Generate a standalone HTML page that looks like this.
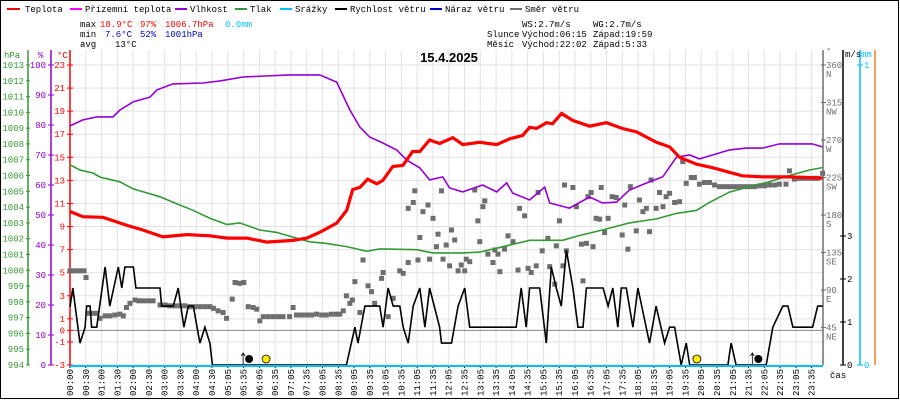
<!DOCTYPE html>
<html><head><meta charset="utf-8">
<style>
html,body{margin:0;padding:0;background:#fff;}
svg{display:block;font-family:"Liberation Mono",monospace;}
</style></head>
<body>
<svg id="chart" width="900" height="400" viewBox="0 0 900 400" xmlns="http://www.w3.org/2000/svg">
<rect x="0.5" y="0.5" width="898" height="398" fill="#fff" stroke="#000" stroke-width="1"/>
<g id="grid"></g>
<g id="axes"></g>
<g id="series"></g>
<g id="head" font-size="9">
  <g>
    <g><line x1="7" y1="9" x2="20" y2="9" stroke="#f00" stroke-width="2"/><text x="25" y="12">Teplota</text></g>
    <g><line x1="70" y1="9" x2="82" y2="9" stroke="#f0f" stroke-width="2"/><text x="85" y="12">Přízemní teplota</text></g>
    <g><line x1="175" y1="9" x2="187" y2="9" stroke="#9400d3" stroke-width="2"/><text x="190" y="12">Vlhkost</text></g>
    <g><line x1="235" y1="9" x2="247" y2="9" stroke="#339933" stroke-width="2"/><text x="250" y="12">Tlak</text></g>
    <g><line x1="280" y1="9" x2="292" y2="9" stroke="#00bfff" stroke-width="2"/><text x="295" y="12">Srážky</text></g>
    <g><line x1="335" y1="9" x2="347" y2="9" stroke="#000" stroke-width="2"/><text x="350" y="12">Rychlost větru</text></g>
    <g><line x1="430" y1="9" x2="442" y2="9" stroke="#0000cd" stroke-width="2"/><text x="445" y="12">Náraz větru</text></g>
    <g><line x1="510" y1="9" x2="522" y2="9" stroke="#6e6e6e" stroke-width="2"/><text x="525" y="12">Směr větru</text></g>
  </g>
  <g>
    <text x="80" y="27">max</text><text x="100" y="27" fill="#f00">18.9°C</text><text x="140" y="27" fill="#f00">97%</text><text x="165" y="27" fill="#f00">1006.7hPa</text><text x="225" y="27" fill="#00bfff">0.0mm</text>
    <text x="80" y="37">min</text><text x="105" y="37" fill="#0000cd">7.6°C</text><text x="140" y="37" fill="#0000cd">52%</text><text x="165" y="37" fill="#0000cd">1001hPa</text>
    <text x="80" y="47">avg</text><text x="115" y="47">13°C</text>
  </g>
  <g>
    <text x="522" y="27">WS:2.7m/s</text><text x="593" y="27">WG:2.7m/s</text>
    <text x="487" y="37">Slunce</text><text x="522" y="37">Východ:06:15</text><text x="593" y="37">Západ:19:59</text>
    <text x="487" y="47">Měsíc</text><text x="522" y="47">Východ:22:02</text><text x="593" y="47">Západ:5:33</text>
  </g>
  <text x="449" y="62" font-size="13" font-weight="bold" text-anchor="middle" font-family="Liberation Sans, sans-serif">15.4.2025</text>
  <text x="4" y="58" fill="#339933">hPa</text>
  <text x="38" y="58" fill="#9400d3">%</text>
  <text x="57" y="58" fill="#f00">°C</text>
  <text x="826" y="54" fill="#6e6e6e">°</text>
  <text x="845" y="57">m/s</text>
  <text x="861" y="57" fill="#00bfff">mm</text>
  <text x="830" y="378">čas</text>
</g>
</svg>
<script>
// ---- data ----
const xLabels = ["00:00","00:30","01:00","01:30","02:00","02:30","03:00","03:30","04:00","04:30","05:05","05:35","06:05","06:35","07:05","07:35","08:05","08:35","09:05","09:35","10:05","10:35","11:05","11:35","12:05","12:35","13:05","13:35","14:05","14:35","15:05","15:35","16:05","16:35","17:05","17:35","18:05","18:35","19:05","19:35","20:05","20:35","21:05","21:35","22:05","22:35","23:05","23:35"];
const tempTicks = [23,21,19,17,15,13,11,9,7,5,3,1,0,-1,-3];
const humTicks = [100,90,80,70,60,50,40,30,20,10,0];
const presTicks = [1013,1012,1011,1010,1009,1008,1007,1006,1005,1004,1003,1002,1001,1000,999,998,997,996,995,994];
const dirTicks = [360,315,270,225,180,135,90,45];
const dirNames = ["N","NW","W","SW","S","SE","E","NE"];
const windTicks = [0,1,2,3];

const tempTimes = [0,0.41,1.05,1.82,2.32,2.96,3.73,4.46,5.0,5.64,6.27,7.1,7.55,7.96,8.5,8.82,9.01,9.24,9.49,9.78,9.97,10.29,10.61,10.92,11.15,11.46,11.78,12.2,12.52,13.06,13.6,14.01,14.43,14.65,14.87,15.19,15.38,15.67,16.02,16.56,17.1,17.61,18.06,18.69,19.11,19.43,19.97,20.48,21.02,21.43,22.07,22.93,23.98];
const tempValues = [10.3,9.85,9.8,9.1,8.7,8.1,8.3,8.2,8.0,8.0,7.65,7.8,8.0,8.5,9.3,10.4,12.2,12.4,13.1,12.7,13.0,14.2,14.3,15.5,15.5,16.5,16.2,16.7,16.1,16.3,16.1,16.6,16.9,17.6,17.5,18.0,17.9,18.8,18.2,17.7,18.0,17.5,17.2,16.3,15.9,15.0,14.4,14.1,13.7,13.4,13.3,13.3,13.2];

const humTimes = [0,0.41,0.86,1.37,1.59,2.01,2.55,2.77,3.28,4.24,4.78,5.51,7.01,7.96,8.5,8.92,9.24,9.55,9.97,10.41,10.73,11.15,11.46,11.88,12.1,12.52,13.15,13.6,13.92,14.11,14.65,15.13,15.29,15.92,16.56,16.97,17.42,17.83,18.38,18.89,19.33,19.75,20.06,20.48,21.02,21.56,22.07,22.61,23.66,23.98];
const humValues = [79.7,81.7,82.7,82.7,85,87.7,89.3,91.7,93.7,94,94.7,96,96.7,96.7,94.3,85,79.3,76,74,71.7,68.3,65.7,61.7,62.7,59,57.7,60,57.7,60.7,57.3,55,59.3,54,52.3,56,54,54.3,58.3,60.7,62.7,69.3,70,68.7,70,71.7,72.3,72.3,73.7,73.7,72.7];

const presTimes = [0,0.32,0.73,0.96,1.59,2.01,2.45,2.87,3.41,3.92,4.46,5.0,5.41,6.05,6.59,7.1,7.64,8.18,8.82,9.46,9.87,11.05,11.56,12.52,13.06,13.6,14.65,15.7,16.24,16.97,17.83,18.69,19.33,19.97,20.38,21.02,21.66,22.29,22.93,23.57,23.98];
const presValues = [1006.67,1006.35,1006.16,1005.9,1005.6,1005.15,1004.9,1004.65,1004.2,1003.8,1003.3,1002.9,1003.0,1002.55,1002.4,1002.1,1001.8,1001.7,1001.5,1001.2,1001.35,1001.3,1001.1,1001.1,1001.15,1001.4,1001.9,1001.9,1002.2,1002.55,1003.0,1003.25,1003.6,1003.8,1004.3,1004.95,1005.3,1005.6,1006.0,1006.35,1006.5];

const windTimes = [0,0.09,0.32,0.48,0.53,0.64,0.69,0.85,1.12,1.27,1.54,1.65,1.75,2.02,2.1,2.87,2.92,3.29,3.45,3.63,3.77,3.93,4.14,4.3,4.46,4.54,8.81,9.08,9.18,9.4,9.87,9.98,10.14,10.3,10.51,10.62,10.78,10.94,11.15,11.31,11.46,11.78,11.84,12.16,12.37,12.58,12.74,14.22,14.38,14.54,14.65,14.97,15.18,15.34,15.5,15.66,15.82,16.03,16.19,16.35,16.46,16.99,17.15,17.3,17.46,17.57,17.73,17.94,18.1,18.47,18.68,18.95,19.11,19.27,19.48,19.64,19.75,20.97,21.07,21.23,22.19,22.4,22.72,22.88,23.04,23.67,23.83,23.99];
const windValues = [1.35,1.79,0.51,0.88,1.37,1.37,0.88,0.88,2.28,1.37,2.28,1.79,2.28,2.28,1.79,1.79,1.37,1.37,1.79,0.88,1.37,1.37,0.51,0.88,0.51,0,0,0.88,0.51,1.37,1.37,0.88,1.79,1.37,1.37,0.88,0.51,1.37,1.79,0.88,1.79,0.88,0.51,0.51,1.37,1.79,0.88,0.88,1.79,0.88,1.79,1.79,0.51,2.28,1.79,1.37,2.67,1.79,0.88,0.88,1.79,1.79,1.37,1.79,0.88,1.79,1.79,0.88,1.79,0.51,1.37,0.51,0.88,0.88,0,0.51,0,0,0.51,0,0,0.88,1.37,1.37,0.88,0.88,1.37,1.37];

const dirTimes = [0,0.16,0.32,0.45,0.51,0.62,0.74,0.85,0.96,1.12,1.27,1.43,1.59,1.7,1.8,1.91,2.07,2.2,2.34,2.5,2.65,2.87,3.03,3.18,3.34,3.5,3.66,3.82,3.98,4.14,4.3,4.46,4.57,4.72,4.88,4.99,5.17,5.26,5.41,5.54,5.68,5.84,5.95,6.05,6.16,6.32,6.48,6.64,6.79,7.0,7.11,7.22,7.38,7.54,7.7,7.86,8.02,8.17,8.33,8.49,8.6,8.71,8.81,8.92,9.0,9.08,9.24,9.34,9.5,9.61,9.71,9.93,9.98,10.14,10.3,10.51,10.62,10.78,10.78,10.94,10.99,11.09,11.15,11.25,11.41,11.46,11.57,11.68,11.73,11.84,11.89,11.99,12.1,12.16,12.26,12.37,12.47,12.58,12.63,12.74,12.9,13.0,13.06,13.16,13.22,13.32,13.48,13.54,13.64,13.7,13.85,13.96,14.12,14.28,14.33,14.49,14.6,14.7,14.86,14.92,15.05,15.23,15.29,15.45,15.5,15.6,15.71,15.76,15.82,16.03,16.14,16.3,16.35,16.46,16.51,16.61,16.67,16.77,16.88,16.93,17.04,17.15,17.28,17.41,17.6,17.68,17.78,17.86,18.05,18.15,18.26,18.37,18.47,18.52,18.68,18.79,18.9,19.0,19.11,19.27,19.43,19.53,19.64,19.8,19.9,20.06,20.22,20.38,20.54,20.7,20.86,21.02,21.18,21.34,21.5,21.66,21.82,21.98,22.14,22.3,22.46,22.61,22.82,22.93,23.09,23.25,23.41,23.57,23.72,23.83,23.99];
const dirValues = [113,113,113,113,105,62,62,62,56,59,59,60,61,59,69,74,78,77,77,77,77,72,72,71,71,71,71,70,70,70,70,70,68,65,63,56,79,99,98,99,70,69,67,53,58,58,58,58,58,58,69,60,60,60,60,61,60,60,61,61,61,65,83,74,78,100,63,126,95,88,74,104,111,58,80,113,110,123,188,195,209,126,153,184,192,127,176,142,157,209,127,144,119,162,150,113,120,113,127,124,210,173,148,190,197,133,123,138,133,112,139,155,148,114,188,179,116,111,119,207,137,152,118,97,143,173,119,216,137,213,190,145,101,146,202,207,142,176,175,213,159,176,202,201,156,192,139,214,161,198,184,188,160,222,188,207,190,202,206,195,196,244,218,225,225,217,219,219,216,214,214,214,214,214,214,214,214,215,215,216,216,217,217,233,223,224,224,224,224,224,230,232];

const sunTimes = [6.25, 19.98];
const moonTimes = [5.55, 21.78];

// ---- scales ----
const X0 = 70, X1 = 823, Y0 = 65, Y1 = 365;
const xT = t => X0 + t * (X1 - X0) / 24;
const xLab = i => X0 + i * 15.78;
const yTemp = v => Y0 + (23 - v) * (Y1 - Y0) / 26;
const yHum = v => Y0 + (100 - v) * (Y1 - Y0) / 100;
const yPres = v => Y0 + (1013 - v) * (Y1 - Y0) / 19;
const yDir = v => Y0 + (360 - v) * (Y1 - Y0) / 360;
const yWind = v => Y1 - v * 43;

const NS = "http://www.w3.org/2000/svg";
function mk(parent, tag, attrs, text) {
  const e = document.createElementNS(NS, tag);
  for (const k in attrs) e.setAttribute(k, attrs[k]);
  if (text !== undefined) e.textContent = text;
  parent.appendChild(e);
  return e;
}
const grid = document.getElementById('grid');
const axes = document.getElementById('axes');
const series = document.getElementById('series');

// vertical grid + x labels
xLabels.forEach((lab, i) => {
  const x = xLab(i);
  const gl = mk(grid, 'line', {x1: x, y1: 50, x2: x, y2: Y1, stroke: '#e2e2e2', 'stroke-width': 1});
  
  
  const tk = mk(axes, 'line', {x1: x, y1: Y1, x2: x, y2: Y1 + 3, stroke: '#000', 'stroke-width': 1});
  
  
  const tx = mk(axes, 'text', {x: 0, y: 0, 'font-size': 9, 'text-anchor': 'end', transform: `translate(${x + 3},369) rotate(-90)`}, lab);
  
  
});
// horizontal grid at temp ticks
tempTicks.forEach(v => {
  const y = yTemp(v);
  const gl = mk(grid, 'line', {x1: X0, y1: y, x2: X1, y2: y, stroke: v === 0 ? '#888' : '#e2e2e2', 'stroke-width': 1});
  
  
});

// left axes
function axisLine(x, y1, y2, color, name) {
  const l = mk(axes, 'line', {x1: x, y1: y1, x2: x, y2: y2, stroke: color, 'stroke-width': 1.5});
  
  
}
axisLine(28, 50, Y1, '#339933', 'pressure-axis');
axisLine(51, 50, Y1, '#9400d3', 'humidity-axis');
axisLine(X0, 50, Y1, '#f00', 'temperature-axis');
presTicks.forEach(v => {
  const y = yPres(v);
  mk(axes, 'line', {x1: 26, y1: y, x2: 30, y2: y, stroke: '#339933'});
  const t = mk(axes, 'text', {x: 24, y: y + 3, 'font-size': 9, 'text-anchor': 'end', fill: '#339933'}, v);
  
  
});
humTicks.forEach(v => {
  const y = yHum(v);
  mk(axes, 'line', {x1: 48, y1: y, x2: 54, y2: y, stroke: '#9400d3'});
  const t = mk(axes, 'text', {x: 46, y: y + 3, 'font-size': 9, 'text-anchor': 'end', fill: '#9400d3'}, v);
  
  
});
tempTicks.forEach(v => {
  const y = yTemp(v);
  mk(axes, 'line', {x1: 67, y1: y, x2: 73, y2: y, stroke: '#f00'});
  const t = mk(axes, 'text', {x: 65, y: y + 3, 'font-size': 9, 'text-anchor': 'end', fill: '#f00'}, v);
  
  
});

// right axes
axisLine(X1, 50, Y1, '#6e6e6e', 'direction-axis');
axisLine(843, 50, Y1, '#000', 'wind-speed-axis');
axisLine(860, 50, Y1, '#00bfff', 'rain-axis');
axisLine(875, 50, Y1, '#f08020', 'extra-axis');
dirTicks.forEach((v, i) => {
  const y = yDir(v);
  mk(axes, 'line', {x1: X1 - 2, y1: y, x2: X1 + 3, y2: y, stroke: '#6e6e6e'});
  const t = mk(axes, 'text', {x: 826, y: y + 3, 'font-size': 9, fill: '#6e6e6e'}, v);
  
  
  const n = mk(axes, 'text', {x: 826, y: y + 12, 'font-size': 9, fill: '#6e6e6e'}, dirNames[i]);
  
  
});
windTicks.forEach(v => {
  const y = yWind(v);
  mk(axes, 'line', {x1: 840, y1: y, x2: 846, y2: y, stroke: '#000'});
  const t = mk(axes, 'text', {x: 847, y: y + 3, 'font-size': 9}, v);
  
  
});
[[1, Y0], [0, Y1]].forEach(([v, y]) => {
  mk(axes, 'line', {x1: 857, y1: y, x2: 863, y2: y, stroke: '#00bfff'});
  const t = mk(axes, 'text', {x: 864, y: y + 3, 'font-size': 9, fill: '#00bfff'}, v);
  
  
});

// series
function pts(times, vals, ys) { return times.map((t, i) => xT(t).toFixed(1) + ',' + ys(vals[i]).toFixed(1)).join(' '); }

// wind direction squares
dirTimes.forEach((t, i) => {
  const r = mk(series, 'rect', {x: xT(t) - 2.5, y: yDir(dirValues[i]) - 2.5, width: 5, height: 5, fill: '#6e6e6e'});
  
  
});
const pres = mk(series, 'polyline', {points: pts(presTimes, presValues, yPres), fill: 'none', stroke: '#339933', 'stroke-width': 1.6});


const hum = mk(series, 'polyline', {points: pts(humTimes, humValues, yHum), fill: 'none', stroke: '#9400d3', 'stroke-width': 1.6});


const temp = mk(series, 'polyline', {points: pts(tempTimes, tempValues, yTemp), fill: 'none', stroke: '#f00', 'stroke-width': 3.2});


const wind = mk(series, 'polyline', {points: pts(windTimes, windValues, yWind), fill: 'none', stroke: '#000', 'stroke-width': 1.6});


const rain = mk(series, 'line', {x1: X0, y1: Y1 + 1, x2: X1, y2: Y1 + 1, stroke: '#00bfff', 'stroke-width': 2});



// sun / moon markers
sunTimes.forEach(t => {
  const c = mk(series, 'circle', {cx: xT(t), cy: 359, r: 4, fill: '#ffee00', stroke: '#000', 'stroke-width': 0.8});
  
  
});
moonTimes.forEach(t => {
  const c = mk(series, 'circle', {cx: xT(t) + 5, cy: 359, r: 4, fill: '#000'});
  
  
  const a = mk(series, 'path', {d: `M${xT(t) - 1} 364 V353 M${xT(t) - 3} 356 L${xT(t) - 1} 353 L${xT(t) + 1} 356`, stroke: '#000', fill: 'none', 'stroke-width': 0.8});
  
  
});
</script>
</body></html>
